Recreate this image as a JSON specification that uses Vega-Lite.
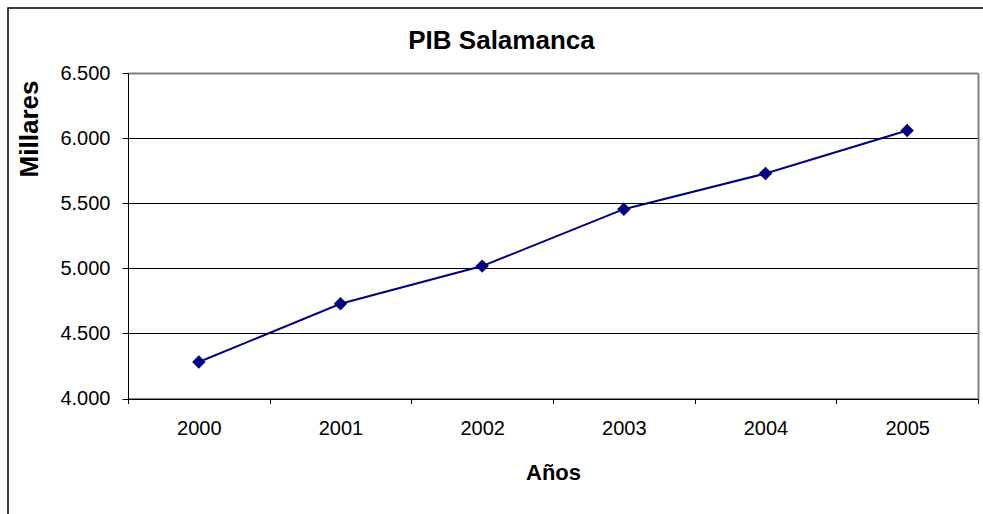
{
  "$schema": "https://vega.github.io/schema/vega-lite/v6.json",
  "autosize": {"type": "none"},
  "width": 977,
  "height": 508,
  "padding": {"left": 8, "top": 8, "right": -2, "bottom": -2},
  "background": "white",
  "title": {
    "text": "PIB Salamanca",
    "font": "Liberation Sans",
    "fontSize": 26,
    "fontWeight": "bold",
    "color": "#000000",
    "anchor": "middle",
    "frame": "group",
    "offset": -67,
    "baseline": "alphabetic",
    "dx": 5
  },
  "config": {
    "view": {"stroke": "#000000", "strokeWidth": 1.5},
    "font": "Liberation Sans"
  },
  "data": {
    "values": [
      {"year": "2000", "pib": 4280},
      {"year": "2001", "pib": 4728},
      {"year": "2002", "pib": 5017},
      {"year": "2003", "pib": 5454},
      {"year": "2004", "pib": 5728},
      {"year": "2005", "pib": 6058}
    ]
  },
  "encoding": {
    "x": {
      "field": "year",
      "type": "ordinal",
      "bandPosition": 0.5,
      "scale": {"type": "band", "range": [120, 970], "paddingInner": 0, "paddingOuter": 0},
      "axis": {
        "orient": "bottom",
        "offset": -117.5,
        "tickBand": "extent",
        "tickSize": 5,
        "tickColor": "#000000",
        "tickWidth": 1,
        "domainColor": "#000000",
        "domainWidth": 1,
        "labelAngle": 0,
        "labelFont": "Liberation Sans",
        "labelFontSize": 20,
        "labelColor": "#000000",
        "labelPadding": 15,
        "grid": false,
        "title": "Años",
        "titleFont": "Liberation Sans",
        "titleFontSize": 22,
        "titleFontWeight": "bold",
        "titleColor": "#000000",
        "titleY": 80.5,
        "titleBaseline": "alphabetic"
      }
    }
  },
  "layer": [
    {
      "mark": {"type": "line", "color": "#000080", "strokeWidth": 2},
      "encoding": {
        "y": {
          "field": "pib",
          "type": "quantitative",
          "scale": {"domain": [4000, 6500], "range": [390.5, 65], "nice": false, "zero": false},
          "axis": {
            "orient": "left",
            "offset": -120,
            "values": [4000, 4500, 5000, 5500, 6000, 6500],
            "labelExpr": "replace(format(datum.value, ',d'), ',', '.')",
            "labelFont": "Liberation Sans",
            "labelFontSize": 20,
            "labelColor": "#000000",
            "labelPadding": 12,
            "labelBound": false,
            "labelOverlap": false,
            "tickSize": 6,
            "tickColor": "#000000",
            "tickWidth": 1,
            "domainColor": "#000000",
            "domainWidth": 1,
            "grid": true,
            "gridColor": {"condition": {"test": "datum.value === 6500", "value": "#808080"}, "value": "#000000"},
            "gridWidth": {"condition": {"test": "datum.value === 6500", "value": 2}, "value": 1},
            "gridOpacity": 1,
            "title": "Millares",
            "titleFont": "Liberation Sans",
            "titleFontSize": 26,
            "titleFontWeight": "bold",
            "titleColor": "#000000",
            "titleAngle": -90,
            "titleX": -91,
            "titleY": 120.5,
            "titleAlign": "center",
            "titleBaseline": "alphabetic"
          }
        }
      }
    },
    {
      "mark": {"type": "point", "shape": "diamond", "filled": true, "color": "#000080", "opacity": 1, "size": 180},
      "encoding": {
        "y": {
          "field": "pib",
          "type": "quantitative",
          "scale": {"domain": [4000, 6500], "range": [390.5, 65], "nice": false, "zero": false},
          "axis": {
            "orient": "right",
            "offset": -7,
            "values": [],
            "ticks": false,
            "labels": false,
            "grid": false,
            "domainColor": "#808080",
            "domainWidth": 2,
            "title": null
          }
        }
      }
    }
  ],
  "resolve": {"axis": {"y": "independent"}}
}
